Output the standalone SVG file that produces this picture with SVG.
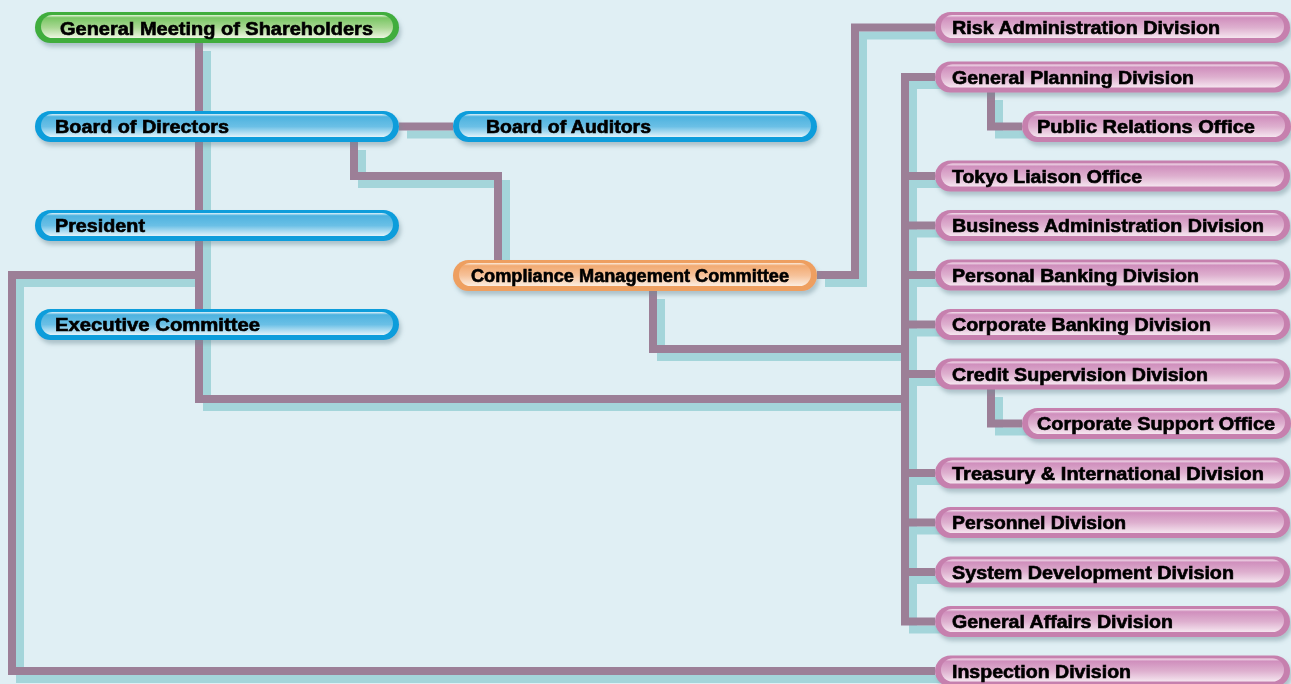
<svg xmlns="http://www.w3.org/2000/svg" width="1291" height="684" viewBox="0 0 1291 684">
<defs>
<style>
.sh{fill:none;stroke:#a4d5da;stroke-width:8;stroke-linejoin:miter}
.ln{fill:none;stroke:#9c7f97;stroke-width:8;stroke-linejoin:miter}
.t{font-family:"Liberation Sans",Arial,sans-serif;font-weight:bold;font-size:18px;fill:#000;stroke:#000;stroke-width:0.6}
.bo{fill:#089ddb}.bi{fill:url(#gb)}
.go{fill:#3fad3e}.gi{fill:url(#gg)}
.oo{fill:#ee9f60}.oi{fill:url(#go)}
.po{fill:#c680ae}.pi{fill:url(#gp)}
.node{filter:url(#ds)}
</style>
<linearGradient id="gb" x1="0" y1="0" x2="0" y2="1">
<stop offset="0" stop-color="#dff2fa"/><stop offset="0.12" stop-color="#4db2df"/><stop offset="0.55" stop-color="#6bc0e6"/><stop offset="1" stop-color="#e2f3fa"/>
</linearGradient>
<linearGradient id="gg" x1="0" y1="0" x2="0" y2="1">
<stop offset="0" stop-color="#e8f5de"/><stop offset="0.12" stop-color="#79c664"/><stop offset="0.55" stop-color="#a9d893"/><stop offset="1" stop-color="#eef6e2"/>
</linearGradient>
<linearGradient id="go" x1="0" y1="0" x2="0" y2="1">
<stop offset="0" stop-color="#fcebdc"/><stop offset="0.12" stop-color="#f2aa72"/><stop offset="0.55" stop-color="#f6c29a"/><stop offset="1" stop-color="#fcede0"/>
</linearGradient>
<linearGradient id="gp" x1="0" y1="0" x2="0" y2="1">
<stop offset="0" stop-color="#f4e2ee"/><stop offset="0.12" stop-color="#d08fbd"/><stop offset="0.55" stop-color="#deb0cf"/><stop offset="1" stop-color="#f5e5ef"/>
</linearGradient>
<filter id="ds" x="-5%" y="-30%" width="110%" height="180%">
<feDropShadow dx="2" dy="4" stdDeviation="2" flood-color="#6f8c96" flood-opacity="0.45"/>
</filter>
</defs>
<rect width="1291" height="684" fill="#e0eff4"/>

<g id="connectors">
<g transform="translate(8,8)">
<path class="sh" d="M199,43 V399 H905"/>
<path class="sh" d="M199,275 H12 V671 H935"/>
<path class="sh" d="M399,126.5 H453"/>
<path class="sh" d="M354,142 V176 H498 V260"/>
<path class="sh" d="M817,275 H855 V27.5 H935"/>
<path class="sh" d="M653,291 V349 H905"/>
<path class="sh" d="M935,77 H905 V621.5 H935"/>
<path class="sh" d="M905,176 H935 M905,225.5 H935 M905,275 H935 M905,324.5 H935 M905,374 H935 M905,473 H935 M905,522.5 H935 M905,572 H935"/>
<path class="sh" d="M991,92 V126.5 H1022"/>
<path class="sh" d="M991,389 V423.5 H1022"/>
</g>
<path class="ln" d="M199,43 V399 H905"/>
<path class="ln" d="M199,275 H12 V671 H935"/>
<path class="ln" d="M399,126.5 H453"/>
<path class="ln" d="M354,142 V176 H498 V260"/>
<path class="ln" d="M817,275 H855 V27.5 H935"/>
<path class="ln" d="M653,291 V349 H905"/>
<path class="ln" d="M935,77 H905 V621.5 H935"/>
<path class="ln" d="M905,176 H935 M905,225.5 H935 M905,275 H935 M905,324.5 H935 M905,374 H935 M905,473 H935 M905,522.5 H935 M905,572 H935"/>
<path class="ln" d="M991,92 V126.5 H1022"/>
<path class="ln" d="M991,389 V423.5 H1022"/>
</g>

<g id="n-gms" class="node"><rect class="go" x="35" y="12" width="364" height="31" rx="15.5"/><rect class="gi" x="41" y="15" width="352" height="23" rx="11.5"/><text class="t" x="60" y="35" textLength="313" lengthAdjust="spacingAndGlyphs">General Meeting of Shareholders</text></g>
<g id="n-bod" class="node"><rect class="bo" x="35" y="111" width="364" height="31" rx="15.5"/><rect class="bi" x="41" y="114" width="352" height="23" rx="11.5"/><text class="t" x="55" y="133" textLength="174" lengthAdjust="spacingAndGlyphs">Board of Directors</text></g>
<g id="n-boa" class="node"><rect class="bo" x="453" y="111" width="364" height="31" rx="15.5"/><rect class="bi" x="459" y="114" width="352" height="23" rx="11.5"/><text class="t" x="486" y="133" textLength="165" lengthAdjust="spacingAndGlyphs">Board of Auditors</text></g>
<g id="n-pres" class="node"><rect class="bo" x="35" y="210" width="364" height="31" rx="15.5"/><rect class="bi" x="41" y="213" width="352" height="23" rx="11.5"/><text class="t" x="55" y="232" textLength="90" lengthAdjust="spacingAndGlyphs">President</text></g>
<g id="n-exec" class="node"><rect class="bo" x="35" y="309" width="364" height="31" rx="15.5"/><rect class="bi" x="41" y="312" width="352" height="23" rx="11.5"/><text class="t" x="55" y="331" textLength="205" lengthAdjust="spacingAndGlyphs">Executive Committee</text></g>
<g id="n-cmc" class="node"><rect class="oo" x="453" y="260" width="364" height="31" rx="15.5"/><rect class="oi" x="459" y="263" width="352" height="23" rx="11.5"/><text class="t" x="471" y="282" textLength="318" lengthAdjust="spacingAndGlyphs">Compliance Management Committee</text></g>

<g id="n-risk" class="node"><rect class="po" x="935" y="12" width="355" height="31" rx="15.5"/><rect class="pi" x="941" y="15" width="343" height="23" rx="11.5"/><text class="t" x="952" y="34" textLength="268" lengthAdjust="spacingAndGlyphs">Risk Administration Division</text></g>
<g id="n-gpd" class="node"><rect class="po" x="935" y="61.5" width="355" height="31" rx="15.5"/><rect class="pi" x="941" y="64.5" width="343" height="23" rx="11.5"/><text class="t" x="952" y="83.5" textLength="242" lengthAdjust="spacingAndGlyphs">General Planning Division</text></g>
<g id="n-pro" class="node"><rect class="po" x="1022" y="111" width="269" height="31" rx="15.5"/><rect class="pi" x="1028" y="114" width="257" height="23" rx="11.5"/><text class="t" x="1037" y="133" textLength="218" lengthAdjust="spacingAndGlyphs">Public Relations Office</text></g>
<g id="n-tlo" class="node"><rect class="po" x="935" y="160.5" width="355" height="31" rx="15.5"/><rect class="pi" x="941" y="163.5" width="343" height="23" rx="11.5"/><text class="t" x="952" y="182.5" textLength="190" lengthAdjust="spacingAndGlyphs">Tokyo Liaison Office</text></g>
<g id="n-bad" class="node"><rect class="po" x="935" y="210" width="355" height="31" rx="15.5"/><rect class="pi" x="941" y="213" width="343" height="23" rx="11.5"/><text class="t" x="952" y="232" textLength="312" lengthAdjust="spacingAndGlyphs">Business Administration Division</text></g>
<g id="n-pbd" class="node"><rect class="po" x="935" y="259.5" width="355" height="31" rx="15.5"/><rect class="pi" x="941" y="262.5" width="343" height="23" rx="11.5"/><text class="t" x="952" y="281.5" textLength="247" lengthAdjust="spacingAndGlyphs">Personal Banking Division</text></g>
<g id="n-cbd" class="node"><rect class="po" x="935" y="309" width="355" height="31" rx="15.5"/><rect class="pi" x="941" y="312" width="343" height="23" rx="11.5"/><text class="t" x="952" y="331" textLength="259" lengthAdjust="spacingAndGlyphs">Corporate Banking Division</text></g>
<g id="n-csd" class="node"><rect class="po" x="935" y="358.5" width="355" height="31" rx="15.5"/><rect class="pi" x="941" y="361.5" width="343" height="23" rx="11.5"/><text class="t" x="952" y="380.5" textLength="256" lengthAdjust="spacingAndGlyphs">Credit Supervision Division</text></g>
<g id="n-cso" class="node"><rect class="po" x="1022" y="408" width="269" height="31" rx="15.5"/><rect class="pi" x="1028" y="411" width="257" height="23" rx="11.5"/><text class="t" x="1037" y="430" textLength="238" lengthAdjust="spacingAndGlyphs">Corporate Support Office</text></g>
<g id="n-tid" class="node"><rect class="po" x="935" y="457.5" width="355" height="31" rx="15.5"/><rect class="pi" x="941" y="460.5" width="343" height="23" rx="11.5"/><text class="t" x="952" y="479.5" textLength="312" lengthAdjust="spacingAndGlyphs">Treasury &amp; International Division</text></g>
<g id="n-per" class="node"><rect class="po" x="935" y="507" width="355" height="31" rx="15.5"/><rect class="pi" x="941" y="510" width="343" height="23" rx="11.5"/><text class="t" x="952" y="529" textLength="174" lengthAdjust="spacingAndGlyphs">Personnel Division</text></g>
<g id="n-sdd" class="node"><rect class="po" x="935" y="556.5" width="355" height="31" rx="15.5"/><rect class="pi" x="941" y="559.5" width="343" height="23" rx="11.5"/><text class="t" x="952" y="578.5" textLength="282" lengthAdjust="spacingAndGlyphs">System Development Division</text></g>
<g id="n-gad" class="node"><rect class="po" x="935" y="606" width="355" height="31" rx="15.5"/><rect class="pi" x="941" y="609" width="343" height="23" rx="11.5"/><text class="t" x="952" y="628" textLength="221" lengthAdjust="spacingAndGlyphs">General Affairs Division</text></g>
<g id="n-ins" class="node"><rect class="po" x="935" y="655.5" width="355" height="31" rx="15.5"/><rect class="pi" x="941" y="658.5" width="343" height="23" rx="11.5"/><text class="t" x="952" y="677.5" textLength="179" lengthAdjust="spacingAndGlyphs">Inspection Division</text></g>
</svg>
